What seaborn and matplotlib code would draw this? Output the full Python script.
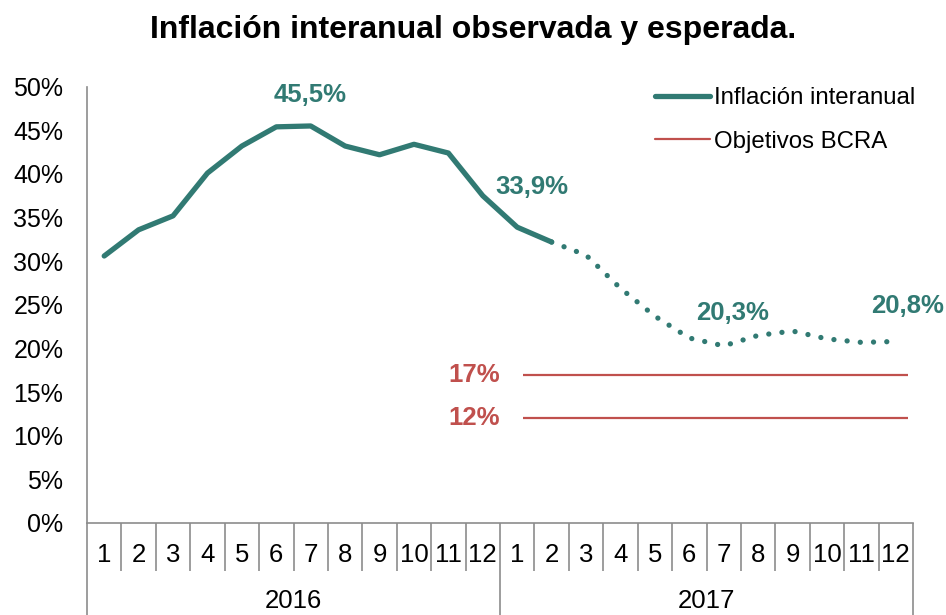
import numpy as np
import pandas as pd
import matplotlib
matplotlib.use("Agg")
import matplotlib.pyplot as plt
from matplotlib.lines import Line2D
from matplotlib.transforms import blended_transform_factory
import seaborn as sns

# ---------------- data ----------------
years = ["2016", "2017"]
months = [str(m) for m in range(1, 13)]
observada = [30.6, 33.6, 35.2, 40.1, 43.2, 45.4, 45.5, 43.2, 42.2, 43.4, 42.4, 37.5, 33.9, 32.2]
esperada = [32.2, 30.7, 26.9, 23.7, 21.2, 20.3, 21.5, 22.0, 21.1, 20.7, 20.8]
objetivos = [17, 12]
objetivos_labels = ["17%", "12%"]
label_points = [6, 12, 18, 23]
label_texts = ["45,5%", "33,9%", "20,3%", "20,8%"]
yticks = list(range(0, 55, 5))

TEAL = "#317A73"
RED = "#C0504D"
GRAY = "#8C8C8C"

sns.set_style("white")
plt.rcParams["font.family"] = ["Liberation Sans", "DejaVu Sans"]
plt.rcParams["text.color"] = "black"
plt.rcParams["ytick.labelcolor"] = "black"
plt.rcParams["xtick.labelcolor"] = "black"

n_cat = len(years) * len(months)
idx_obs = np.arange(len(observada))
idx_esp = np.arange(len(observada) - 1, len(observada) - 1 + len(esperada))
all_vals = np.concatenate([observada, esperada[1:]])

df_obs = pd.DataFrame({"i": idx_obs, "v": observada})
df_esp = pd.DataFrame({"i": idx_esp, "v": esperada})

fig = plt.figure(figsize=(9.46, 6.15), dpi=100)
ax = fig.add_axes([87 / 946, (615 - 523) / 615, 826 / 946, 436.3 / 615])

sns.lineplot(data=df_obs, x="i", y="v", ax=ax, color=TEAL, lw=3.8,
             solid_capstyle="round", solid_joinstyle="round", legend=False)
sns.lineplot(data=df_esp, x="i", y="v", ax=ax, color=TEAL, lw=3.8,
             linestyle=(0, (0.01, 2.5)), dash_capstyle="round", legend=False)

# objectives lines (2017-1 to 2017-12)
start = len(months)
end = n_cat - 1
for val, lab in zip(objetivos, objetivos_labels):
    ax.hlines(val, start + 0.18, end + 0.36, color=RED, lw=1.6)
    ax.text(start - 0.5, val, lab, color=RED, fontsize=18.5, fontweight="bold",
            ha="right", va="center")

# data labels
offsets = [(-0.7, 22.3), (10.6, 28.8), (6.5, 23.8), (8.6, 25.2)]
for p, t, off in zip(label_points, label_texts, offsets):
    ax.annotate(t, xy=(p, all_vals[p]), xytext=off, textcoords="offset points",
                ha="center", va="center", color=TEAL, fontsize=18.5,
                fontweight="bold", annotation_clip=False)

ax.set_xlim(-0.5, n_cat - 0.5)
ax.set_ylim(0, 50)
ax.set_yticks(yticks)
ax.set_yticklabels([f"{y}%" for y in yticks], fontsize=18)
ax.tick_params(axis="y", direction="out", length=5, width=1, color=GRAY, pad=12)
ax.set_xticks([])
ax.set_xlabel("")
ax.set_ylabel("")
for s in ["top", "right"]:
    ax.spines[s].set_visible(False)
for s in ["left", "bottom"]:
    ax.spines[s].set_color(GRAY)
    ax.spines[s].set_linewidth(1.2)

trans = blended_transform_factory(ax.transData, ax.transAxes)
h_axes = 436.3
short = -48 / h_axes
long_ = -95 / h_axes
for k in range(n_cat + 1):
    y_end = long_ if k % len(months) == 0 else short
    ax.plot([k - 0.5, k - 0.5], [0, y_end], transform=trans, color=GRAY,
            lw=1.2, clip_on=False, solid_capstyle="butt")
for yi, yr in enumerate(years):
    for mi, m in enumerate(months):
        ax.text(yi * len(months) + mi, -32 / h_axes, m, transform=trans,
                ha="center", va="center", fontsize=18.5)
    ax.text(yi * len(months) + (len(months) - 1) / 2, -78 / h_axes, yr,
            transform=trans, ha="center", va="center", fontsize=18.5)

handles = [Line2D([], [], color=TEAL, lw=3.8, solid_capstyle="round"),
           Line2D([], [], color=RED, lw=1.6)]
ax.legend(handles, ["Inflación interanual", "Objetivos BCRA"], loc="upper right",
          bbox_to_anchor=(915 / 946, (615 - 87) / 615), bbox_transform=fig.transFigure,
          frameon=False, fontsize=17.3, handlelength=2.3, handletextpad=0.15,
          labelspacing=0.9, borderpad=0, borderaxespad=0)

fig.text(473 / 946, 1 - 30 / 615, "Inflación interanual observada y esperada.",
         ha="center", va="center", fontsize=23, fontweight="bold")

fig.savefig("out.png", dpi=100)
